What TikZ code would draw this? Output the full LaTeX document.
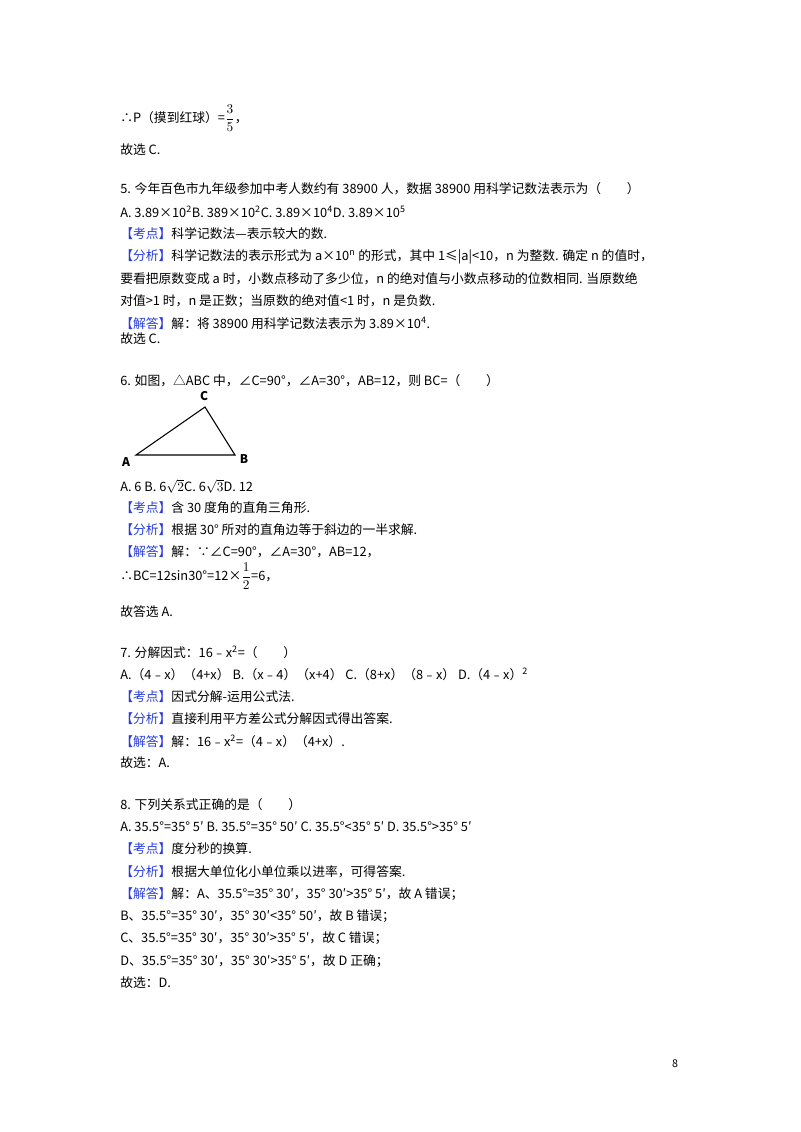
\documentclass[tikz,border=0pt]{standalone}
\usepackage{fontspec}
\setmainfont{Noto Sans CJK SC}
\definecolor{tagblue}{RGB}{40,60,220}
\newcommand{\tg}[1]{\textcolor{tagblue}{【#1】}}
\begin{document}
\begin{tikzpicture}[x=0.75pt,y=-0.75pt,
  ln/.style={anchor=west,inner sep=0pt,font=\fontsize{9.6}{11}\selectfont}]
\useasboundingbox (0,0) rectangle (800,1132);
\fill[white] (0,0) rectangle (800,1132);
\node[ln] (l1) at (120,118) {∴P（摸到红球）=$\displaystyle\frac{3}{5}$，};
\node[ln] (l2) at (120,150) {故选 C.};
\node[ln] (l3) at (120,189) {5. 今年百色市九年级参加中考人数约有 38900 人，数据 38900 用科学记数法表示为（\quad\quad ）};
\node[ln] (l4) at (120,212) {A. 3.89×10\textsuperscript{2}B. 389×10\textsuperscript{2}C. 3.89×10\textsuperscript{4}D. 3.89×10\textsuperscript{5}};
\node[ln] (l5) at (120,234) {\tg{考点}科学记数法—表示较大的数.};
\node[ln] (l6) at (120,257) {\tg{分析}科学记数法的表示形式为 a×10\textsuperscript{n} 的形式，其中 1≤|a|<10，n 为整数. 确定 n 的值时，};
\node[ln] (l7) at (120,279) {要看把原数变成 a 时，小数点移动了多少位，n 的绝对值与小数点移动的位数相同. 当原数绝};
\node[ln] (l8) at (120,301) {对值>1 时，n 是正数；当原数的绝对值<1 时，n 是负数.};
\node[ln] (l9) at (120,323) {\tg{解答}解：将 38900 用科学记数法表示为 3.89×10\textsuperscript{4}.};
\node[ln] (l10) at (120,339) {故选 C.};
\node[ln] (l11) at (120,381) {6. 如图，△ABC 中，∠C=90°，∠A=30°，AB=12，则 BC=（\quad\quad ）};
\coordinate (A) at (136,455);
\coordinate (B) at (235,455);
\coordinate (C) at (205,407);
\draw[line width=0.8pt] (A) -- (B) -- (C) -- cycle;
\node[font=\itshape\bfseries\fontsize{9}{10}\selectfont] (la) at (126,462) {A};
\node[font=\itshape\bfseries\fontsize{9}{10}\selectfont] (lb) at (244,459) {B};
\node[font=\itshape\bfseries\fontsize{9}{10}\selectfont] (lc) at (204,396) {C};
\node[ln] (l12) at (120,486) {A. 6 B. 6$\sqrt{2}$C. 6$\sqrt{3}$D. 12};
\node[ln] (l13) at (120,508) {\tg{考点}含 30 度角的直角三角形.};
\node[ln] (l14) at (120,530) {\tg{分析}根据 30° 所对的直角边等于斜边的一半求解.};
\node[ln] (l15) at (120,552) {\tg{解答}解：∵∠C=90°，∠A=30°，AB=12，};
\node[ln] (l16) at (120,576) {∴BC=12sin30°=12×$\displaystyle\frac{1}{2}$=6，};
\node[ln] (l17) at (120,612) {故答选 A.};
\node[ln] (l18) at (120,652) {7. 分解因式：16﹣x\textsuperscript{2}=（\quad\quad ）};
\node[ln] (l19) at (120,674) {A.（4﹣x）（4+x）\ B.（x﹣4）（x+4）\ C.（8+x）（8﹣x）\ D.（4﹣x）\textsuperscript{2}};
\node[ln] (l20) at (120,697) {\tg{考点}因式分解-运用公式法.};
\node[ln] (l21) at (120,719) {\tg{分析}直接利用平方差公式分解因式得出答案.};
\node[ln] (l22) at (120,741) {\tg{解答}解：16﹣x\textsuperscript{2}=（4﹣x）（4+x）.};
\node[ln] (l23) at (120,763) {故选：A.};
\node[ln] (l24) at (120,805) {8. 下列关系式正确的是（\quad\quad ）};
\node[ln] (l25) at (120,827) {A. 35.5°=35° 5′\ B. 35.5°=35° 50′\ C. 35.5°<35° 5′\ D. 35.5°>35° 5′};
\node[ln] (l26) at (120,849) {\tg{考点}度分秒的换算.};
\node[ln] (l27) at (120,872) {\tg{分析}根据大单位化小单位乘以进率，可得答案.};
\node[ln] (l28) at (120,894) {\tg{解答}解：A、35.5°=35° 30′，35° 30′>35° 5′，故 A 错误；};
\node[ln] (l29) at (120,916) {B、35.5°=35° 30′，35° 30′<35° 50′，故 B 错误；};
\node[ln] (l30) at (120,938) {C、35.5°=35° 30′，35° 30′>35° 5′，故 C 错误；};
\node[ln] (l31) at (120,961) {D、35.5°=35° 30′，35° 30′>35° 5′，故 D 正确；};
\node[ln] (l32) at (120,983) {故选：D.};
\node[font=\fontsize{8}{9}\selectfont] (pg) at (675,1064) {8};
\end{tikzpicture}
\end{document}
